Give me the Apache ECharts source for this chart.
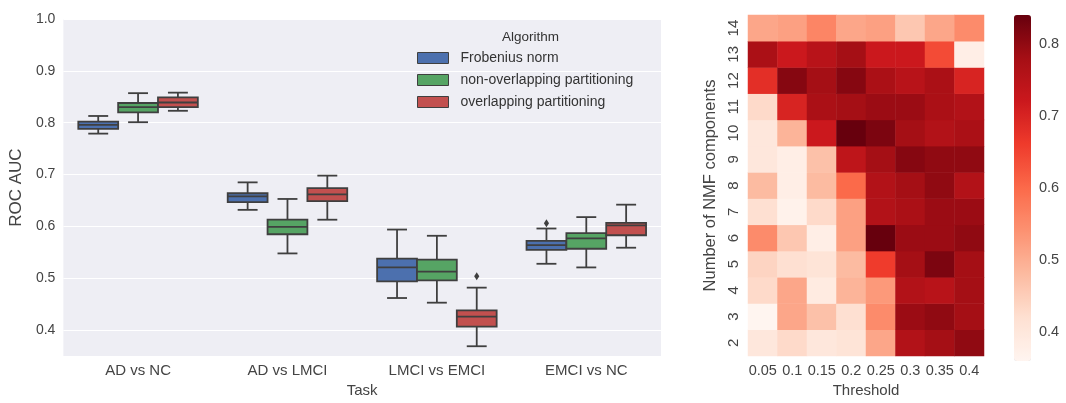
<!DOCTYPE html>
<html>
<head>
<meta charset="utf-8">
<script src="https://cdn.jsdelivr.net/npm/echarts@6/dist/echarts.min.js"></script>
<style>
html,body{margin:0;padding:0;background:#fff;}
#main{width:1066px;height:403px;}
</style>
</head>
<body>
<div id="main"></div>
<script>
// ---------- Box plot data ----------
const tasks = ['AD vs NC', 'AD vs LMCI', 'LMCI vs EMCI', 'EMCI vs NC'];
const algorithms = ['Frobenius norm', 'non-overlapping partitioning', 'overlapping partitioning'];
const algoColors = ['#4C70AE', '#56A464', '#C2504F'];
// each entry: [min, Q1, median, Q3, max] per task
const frobeniusBoxes = [
  [0.779, 0.788, 0.796, 0.802, 0.813],
  [0.632, 0.647, 0.658, 0.664, 0.685],
  [0.462, 0.494, 0.521, 0.538, 0.594],
  [0.528, 0.555, 0.564, 0.572, 0.596]
];
const nonOverlapBoxes = [
  [0.801, 0.820, 0.830, 0.838, 0.857],
  [0.548, 0.585, 0.599, 0.613, 0.653],
  [0.453, 0.496, 0.513, 0.536, 0.582],
  [0.521, 0.557, 0.577, 0.587, 0.618]
];
const overlapBoxes = [
  [0.823, 0.830, 0.839, 0.849, 0.858],
  [0.613, 0.649, 0.662, 0.674, 0.698],
  [0.369, 0.407, 0.426, 0.438, 0.482],
  [0.559, 0.583, 0.602, 0.607, 0.642]
];
// outliers: [taskIndex, algorithmIndex, value]
const outliers = [
  [2, 2, 0.504],
  [3, 0, 0.606]
];
const rocTicks = [0.4, 0.5, 0.6, 0.7, 0.8, 0.9, 1.0];

// ---------- Heatmap data ----------
const thresholds = ['0.05', '0.1', '0.15', '0.2', '0.25', '0.3', '0.35', '0.4'];
const nmfComponents = ['2', '3', '4', '5', '6', '7', '8', '9', '10', '11', '12', '13', '14'];
const auc_n2  = [0.40, 0.43, 0.40, 0.41, 0.51, 0.76, 0.78, 0.80];
const auc_n3  = [0.36, 0.51, 0.47, 0.42, 0.55, 0.79, 0.80, 0.78];
const auc_n4  = [0.43, 0.51, 0.39, 0.49, 0.53, 0.76, 0.75, 0.78];
const auc_n5  = [0.44, 0.42, 0.41, 0.48, 0.66, 0.78, 0.82, 0.78];
const auc_n6  = [0.55, 0.46, 0.38, 0.52, 0.84, 0.79, 0.79, 0.80];
const auc_n7  = [0.42, 0.37, 0.43, 0.52, 0.76, 0.77, 0.79, 0.79];
const auc_n8  = [0.48, 0.38, 0.48, 0.60, 0.76, 0.78, 0.80, 0.76];
const auc_n9  = [0.40, 0.38, 0.47, 0.74, 0.78, 0.81, 0.80, 0.80];
const auc_n10 = [0.40, 0.49, 0.72, 0.84, 0.82, 0.78, 0.76, 0.77];
const auc_n11 = [0.43, 0.70, 0.77, 0.78, 0.79, 0.79, 0.77, 0.76];
const auc_n12 = [0.68, 0.81, 0.78, 0.81, 0.77, 0.75, 0.77, 0.70];
const auc_n13 = [0.77, 0.72, 0.75, 0.78, 0.72, 0.72, 0.64, 0.38];
const auc_n14 = [0.51, 0.52, 0.56, 0.51, 0.52, 0.46, 0.51, 0.55];
const heatRows = [auc_n2, auc_n3, auc_n4, auc_n5, auc_n6, auc_n7, auc_n8, auc_n9, auc_n10, auc_n11, auc_n12, auc_n13, auc_n14];
const colorbarTicks = [0.4, 0.5, 0.6, 0.7, 0.8];
const redsMap = ['#fff5f0', '#fee0d2', '#fcbba1', '#fc9272', '#fb6a4a', '#ef3b2c', '#cb181d', '#a50f15', '#67000d'];

// ---------- build ----------
const heatData = [];
heatRows.forEach((row, yi) => row.forEach((v, xi) => heatData.push([xi, yi, v])));

const boxSets = [frobeniusBoxes, nonOverlapBoxes, overlapBoxes];
const EDGE = '#3f3f3f';
const LW = 1.8;

function makeBoxRender(k) {
  return function (params, api) {
    const cat = api.value(0);
    const band = api.size([1, 0])[0];
    const w = band * 0.8 / 3;
    const cx = api.coord([cat, 0])[0] + (k - 1) * w;
    const yMin = api.coord([cat, api.value(1)])[1];
    const yQ1 = api.coord([cat, api.value(2)])[1];
    const yMed = api.coord([cat, api.value(3)])[1];
    const yQ3 = api.coord([cat, api.value(4)])[1];
    const yMax = api.coord([cat, api.value(5)])[1];
    const cap = w / 4;
    const ls = {stroke: EDGE, lineWidth: LW};
    return {
      type: 'group',
      children: [
        {type: 'line', shape: {x1: cx, y1: yQ3, x2: cx, y2: yMax}, style: ls},
        {type: 'line', shape: {x1: cx, y1: yQ1, x2: cx, y2: yMin}, style: ls},
        {type: 'line', shape: {x1: cx - cap, y1: yMax, x2: cx + cap, y2: yMax}, style: ls},
        {type: 'line', shape: {x1: cx - cap, y1: yMin, x2: cx + cap, y2: yMin}, style: ls},
        {type: 'rect', shape: {x: cx - w / 2, y: yQ3, width: w, height: yQ1 - yQ3},
          style: {fill: algoColors[k], stroke: EDGE, lineWidth: LW}},
        {type: 'line', shape: {x1: cx - w / 2, y1: yMed, x2: cx + w / 2, y2: yMed}, style: ls}
      ]
    };
  };
}

function renderOutlier(params, api) {
  const cat = api.value(0);
  const k = api.value(1);
  const band = api.size([1, 0])[0];
  const w = band * 0.8 / 3;
  const p = api.coord([cat, api.value(2)]);
  const cx = p[0] + (k - 1) * w;
  const r = 3.2;
  return {
    type: 'polygon',
    shape: {points: [[cx, p[1] - r - 0.8], [cx + r * 0.8, p[1]], [cx, p[1] + r + 0.8], [cx - r * 0.8, p[1]]]},
    style: {fill: EDGE}
  };
}

const boxSeries = algorithms.map((name, k) => ({
  name: name,
  type: 'custom',
  xAxisIndex: 0, yAxisIndex: 0,
  itemStyle: {color: algoColors[k]},
  renderItem: makeBoxRender(k),
  encode: {x: 0, y: [1, 2, 3, 4, 5]},
  data: boxSets[k].map((b, i) => [i].concat(b))
}));

const isTenth = v => Math.abs(v * 10 - Math.round(v * 10)) < 1e-6;
const font = 'Liberation Sans, Arial, sans-serif';
const txt = '#444';

const option = {
  animation: false,
  textStyle: {fontFamily: font},
  title: {
    text: 'Algorithm', left: 502, top: 30, padding: 0,
    textStyle: {fontSize: 13.5, fontWeight: 'normal', color: '#333', fontFamily: font}
  },
  legend: {
    data: algorithms,
    orient: 'vertical',
    left: 417, top: 51, padding: 0,
    itemWidth: 31, itemHeight: 11, itemGap: 8,
    icon: 'rect',
    itemStyle: {borderColor: EDGE, borderWidth: 1},
    textStyle: {fontSize: 14, color: '#333', fontFamily: font, padding: [0, 0, 0, 7]}
  },
  grid: [
    {left: 61, top: 19, width: 600, height: 344, show: true, backgroundColor: '#EEEEF4', borderWidth: 0},
    {left: 748, top: 15, width: 236, height: 346, show: false},
    {left: 1014, top: 15, width: 17, height: 346, show: false}
  ],
  xAxis: [
    {
      gridIndex: 0, type: 'category', data: tasks,
      name: 'Task', nameLocation: 'middle', nameGap: 26,
      nameTextStyle: {fontSize: 15, color: txt, fontFamily: font},
      axisLine: {show: false}, axisTick: {show: false},
      axisLabel: {fontSize: 15, color: txt, margin: 7, fontFamily: font},
      splitLine: {show: false}
    },
    {
      gridIndex: 1, type: 'category', data: thresholds,
      name: 'Threshold', nameLocation: 'middle', nameGap: 27,
      nameTextStyle: {fontSize: 15, color: txt, fontFamily: font},
      axisLine: {show: false}, axisTick: {show: false},
      axisLabel: {fontSize: 14.5, color: txt, margin: 7, interval: 0, fontFamily: font},
      splitArea: {show: false}
    },
    {gridIndex: 2, type: 'value', show: false, min: 0, max: 1}
  ],
  yAxis: [
    {
      gridIndex: 0, type: 'value', min: 0.35, max: 1.0, interval: 0.05,
      name: 'ROC AUC', nameLocation: 'middle', nameGap: 36,
      nameTextStyle: {fontSize: 17, color: txt, fontFamily: font},
      axisLine: {show: false}, axisTick: {show: false},
      axisLabel: {
        fontSize: 14, color: txt, margin: 8, fontFamily: font,
        formatter: v => (isTenth(v) && rocTicks.some(t => Math.abs(t - v) < 1e-6)) ? v.toFixed(1) : ''
      },
      splitLine: {show: true, lineStyle: {color: ['rgba(0,0,0,0)', '#ffffff'], width: 1.2}}
    },
    {
      gridIndex: 1, type: 'category', data: nmfComponents,
      name: 'Number of NMF components', nameLocation: 'middle', nameGap: 29,
      nameTextStyle: {fontSize: 16.5, color: txt, fontFamily: font},
      axisLine: {show: false}, axisTick: {show: false},
      axisLabel: {fontSize: 15, color: txt, margin: 7, rotate: 90, interval: 0, fontFamily: font},
      splitArea: {show: false}
    },
    {
      gridIndex: 2, type: 'value', position: 'right', min: 0.36, max: 0.84, interval: 0.02,
      axisLine: {show: false}, axisTick: {show: false}, splitLine: {show: false},
      axisLabel: {
        fontSize: 14.5, color: txt, margin: 8, fontFamily: font,
        showMinLabel: false, showMaxLabel: false,
        formatter: v => colorbarTicks.some(t => Math.abs(t - v) < 1e-6) ? v.toFixed(1) : ''
      }
    }
  ],
  visualMap: {
    type: 'continuous',
    min: 0.36, max: 0.84,
    seriesIndex: 4,
    calculable: false,
    left: 1014, top: 15,
    itemWidth: 17, itemHeight: 346,
    text: null,
    showLabel: false,
    inRange: {color: redsMap},
    padding: 0
  },
  series: boxSeries.concat([
    {
      name: 'outliers', type: 'custom', xAxisIndex: 0, yAxisIndex: 0,
      renderItem: renderOutlier,
      encode: {x: 0, y: 2},
      data: outliers
    },
    {
      name: 'heat', type: 'heatmap', xAxisIndex: 1, yAxisIndex: 1,
      data: heatData,
      itemStyle: {borderWidth: 0},
      emphasis: {disabled: true}
    },
    {
      name: 'cbaxis', type: 'scatter', xAxisIndex: 2, yAxisIndex: 2, data: [], silent: true
    }
  ])
};

const chart = echarts.init(document.getElementById('main'), null, {renderer: 'canvas'});
chart.setOption(option);
</script>
</body>
</html>
